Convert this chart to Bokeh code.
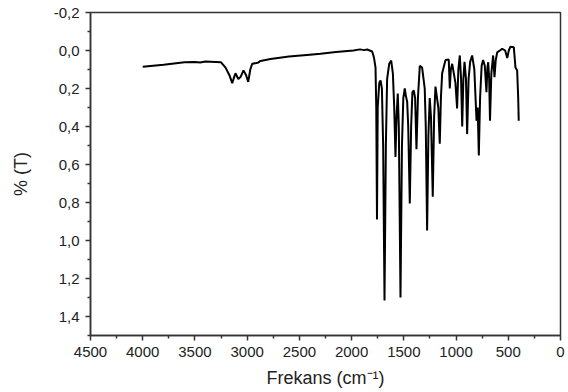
from bokeh.plotting import figure
from bokeh.models import Range1d, FixedTicker
from bokeh.embed import file_html
from bokeh.resources import INLINE

wavenumber = [4000, 3900, 3800, 3700, 3600, 3500, 3450, 3400, 3300, 3250, 3207, 3170, 3143, 3125,
              3112, 3085, 3064, 3035, 3010, 2990, 2970, 2952, 2900, 2872, 2777, 2600, 2400, 2298,
              2150, 1982, 1920, 1880, 1851, 1803, 1785, 1771, 1764, 1757, 1750, 1735, 1723, 1710,
              1698, 1685, 1672, 1660, 1640, 1621, 1605, 1592, 1580, 1570, 1558, 1548, 1532, 1518,
              1505, 1491, 1480, 1468, 1458, 1443, 1430, 1418, 1405, 1392, 1379, 1365, 1347, 1325,
              1300, 1290, 1277, 1265, 1252, 1240, 1223, 1210, 1197, 1180, 1170, 1156, 1145, 1133,
              1101, 1070, 1060, 1050, 1037, 1006, 990, 978, 964, 952, 941, 930, 919, 905, 894, 880,
              865, 846, 825, 804, 793, 782, 770, 755, 741, 725, 709, 700, 692, 683, 675, 662, 645,
              632, 620, 606, 580, 558, 530, 510, 495, 479, 447, 431, 415, 405, 400]
transmittance = [0.085, 0.080, 0.075, 0.068, 0.062, 0.060, 0.063, 0.058, 0.060, 0.062, 0.090, 0.130,
                 0.172, 0.140, 0.120, 0.150, 0.140, 0.105, 0.130, 0.165, 0.100, 0.070, 0.065, 0.055,
                 0.045, 0.032, 0.022, 0.017, 0.008, 0.000, -0.006, -0.002, -0.005, 0.005, 0.040,
                 0.090, 0.300, 0.890, 0.300, 0.170, 0.158, 0.200, 0.500, 1.316, 0.500, 0.150, 0.070,
                 0.053, 0.120, 0.300, 0.560, 0.350, 0.226, 0.400, 1.300, 0.500, 0.250, 0.200, 0.240,
                 0.270, 0.400, 0.805, 0.400, 0.220, 0.210, 0.250, 0.520, 0.250, 0.080, 0.090, 0.200,
                 0.400, 0.947, 0.450, 0.250, 0.350, 0.770, 0.350, 0.190, 0.260, 0.300, 0.490, 0.250,
                 0.120, 0.050, 0.047, 0.200, 0.100, 0.070, 0.170, 0.305, 0.100, 0.026, 0.150, 0.400,
                 0.150, 0.060, 0.150, 0.440, 0.150, 0.060, 0.026, 0.100, 0.370, 0.300, 0.553, 0.250,
                 0.080, 0.050, 0.080, 0.220, 0.090, 0.062, 0.150, 0.370, 0.120, 0.026, 0.140, 0.050,
                 0.010, 0.000, -0.009, 0.000, 0.040, 0.000, -0.020, -0.017, 0.090, 0.105, 0.250, 0.370]

x_ticks = [4500, 4000, 3500, 3000, 2500, 2000, 1500, 1000, 500, 0]
y_ticks = [-0.2, 0.0, 0.2, 0.4, 0.6, 0.8, 1.0, 1.2, 1.4]
y_tick_labels = ["-0,2", "0,0", "0,2", "0,4", "0,6", "0,8", "1,0", "1,2", "1,4"]

FONT = "Liberation Sans"
AX = "#333333"

p = figure(frame_width=470, frame_height=323, output_backend="svg", toolbar_location=None,
           x_range=Range1d(4500, 0), y_range=Range1d(1.5, -0.2),
           min_border_left=90, min_border_top=12, min_border_right=6, min_border_bottom=50,
           background_fill_color="white", border_fill_color="white")
p.grid.visible = False
p.outline_line_color = AX
p.outline_line_width = 1.5

p.line(wavenumber, transmittance, line_color="black", line_width=2)

p.xaxis.ticker = FixedTicker(ticks=x_ticks,
                             minor_ticks=[x + 250 for x in x_ticks[1:]])
p.yaxis.ticker = FixedTicker(ticks=y_ticks,
                             minor_ticks=[round(y + 0.1, 1) for y in y_ticks])
p.yaxis.major_label_overrides = {y: s for y, s in zip(y_ticks, y_tick_labels)}
p.xaxis.axis_label = "Frekans (cm\u207b\u00b9)"
p.yaxis.axis_label = "% (T)"

for ax in (p.xaxis, p.yaxis):
    ax.axis_line_color = AX
    ax.axis_line_width = 1.5
    ax.major_tick_line_color = AX
    ax.minor_tick_line_color = AX
    ax.major_tick_line_width = 1.5
    ax.minor_tick_line_width = 1.5
    ax.major_tick_out = 5
    ax.major_tick_in = 0
    ax.minor_tick_out = 3
    ax.minor_tick_in = 0
    ax.major_label_text_font = FONT
    ax.major_label_text_font_size = "15px"
    ax.major_label_text_color = "#222222"
    ax.axis_label_text_font = FONT
    ax.axis_label_text_font_size = "18px"
    ax.axis_label_text_font_style = "normal"
    ax.axis_label_text_color = "#222222"

p.xaxis.major_label_standoff = 6
p.xaxis.axis_label_standoff = 8
p.yaxis.major_label_standoff = 6
p.yaxis.axis_label_standoff = 20

open("out.html", "w").write(file_html(p, INLINE))
